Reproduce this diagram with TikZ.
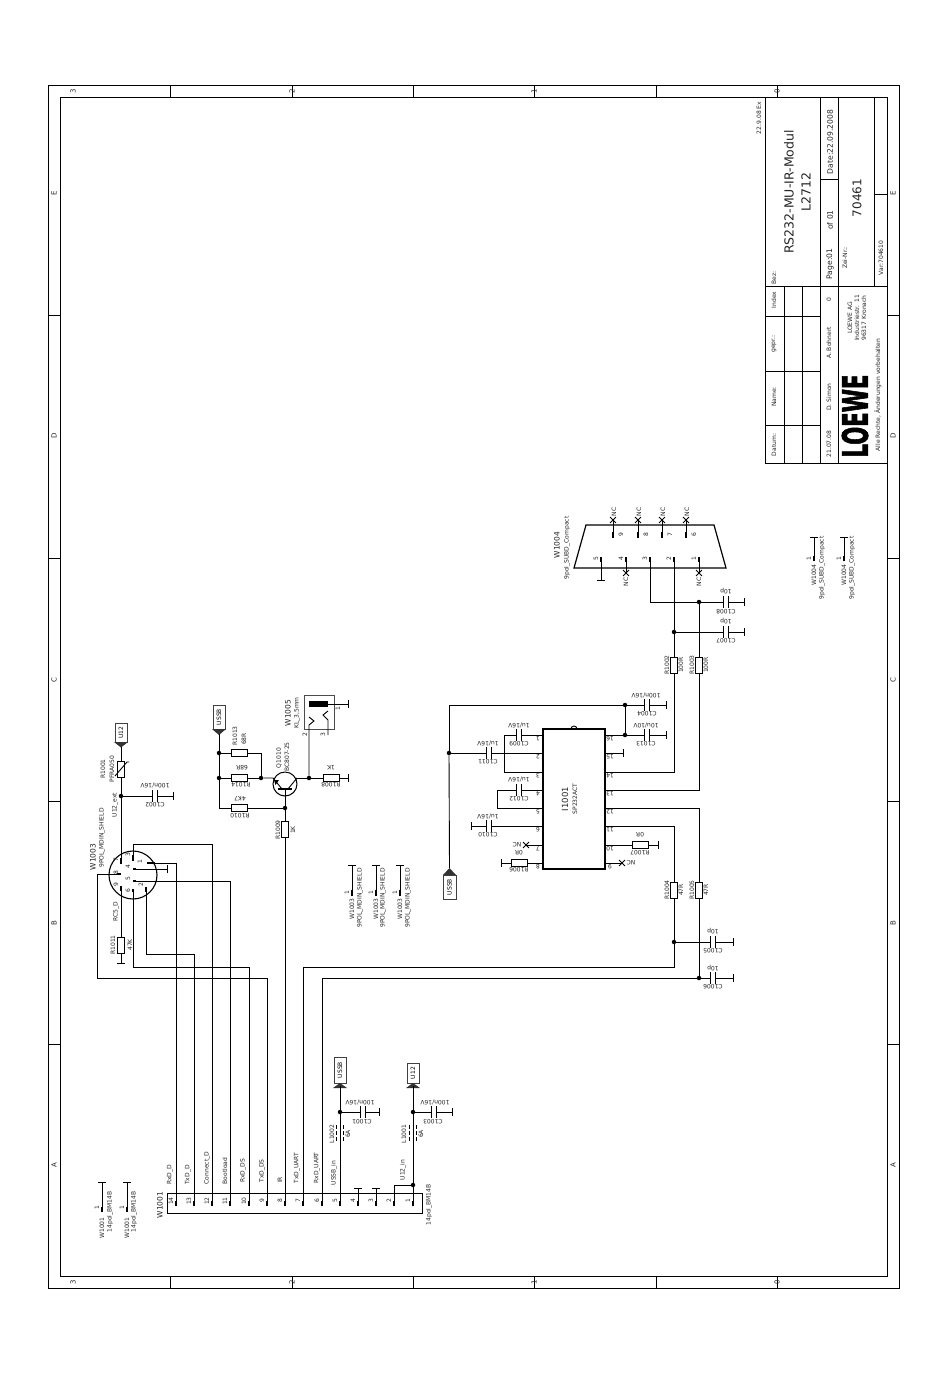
\documentclass[tikz,border=0pt]{standalone}
\usepackage{fontspec}
\setmainfont{DejaVu Sans}
\newfontfamily\logofont[FakeBold=2.5]{DejaVu Sans Bold}
\usetikzlibrary{shapes.misc}
\newcounter{lb}
\tikzset{
 wire/.style={line width=0.9pt,black},
 pinw/.style={line width=2pt,black},
 frm/.style={line width=0.9pt,black},
 txt/.style={inner sep=0pt,font=\fontsize{6}{7}\selectfont,text=black!85},
 dot/.style={circle,fill=black,inner sep=0pt,minimum size=4.5pt},
 resv/.style={rectangle,draw,line width=0.9pt,fill=white,inner sep=0pt,minimum width=7pt,minimum height=16pt},
 resh/.style={rectangle,draw,line width=0.9pt,fill=white,inner sep=0pt,minimum width=16pt,minimum height=7pt},
 caph/.style={rectangle,inner sep=0pt,minimum width=4pt,minimum height=11pt},
 xm/.style={cross out,draw,line width=0.9pt,inner sep=0pt,minimum size=5pt},
 tagbox/.style={rectangle,draw=black!75,line width=1pt,fill=white,inner sep=0pt,font=\fontsize{6}{7}\selectfont},
}
\newcommand{\Tr}[3]{\stepcounter{lb}\node[txt,rotate=90] (t\arabic{lb}) at (#1,#2) {#3};}
\newcommand{\Tf}[3]{\stepcounter{lb}\node[txt,rotate=180] (t\arabic{lb}) at (#1,#2) {#3};}
\newcommand{\Tb}[4]{\stepcounter{lb}\node[txt,rotate=90,font=\fontsize{#4}{#4}\selectfont] (t\arabic{lb}) at (#1,#2) {#3};}
\newcommand{\jnc}[3]{\node[dot] (#1) at (#2,#3) {};}
\newcommand{\rvv}[3]{\node[resv] (#1) at (#2,#3) {};}
\newcommand{\rhh}[3]{\node[resh] (#1) at (#2,#3) {};}
\newcommand{\cpp}[3]{\node[caph] (#1) at (#2,#3) {};\draw[line width=1.1pt] (#1.north west) -- (#1.south west) (#1.north east) -- (#1.south east);}
\newcommand{\ptc}[3]{\coordinate (#1) at (#2,#3);}
\newcommand{\tkv}[3]{\coordinate (#1) at (#2,#3);\draw[wire] ([yshift=4pt]#1) -- ([yshift=-4pt]#1);}
\newcommand{\tkh}[3]{\coordinate (#1) at (#2,#3);\draw[wire] ([xshift=-4pt]#1) -- ([xshift=4pt]#1);}
\newcommand{\xxm}[3]{\node[xm] (#1) at (#2,#3) {};}
\begin{document}
\begin{tikzpicture}[x=1pt,y=-1pt]
\useasboundingbox (0,0) rectangle (950,1387);
\fill[white] (0,0) rectangle (950,1387);
% ---------- sheet frame
\draw[frm] (48,85) rectangle (899,1288);
\draw[frm] (60,97) rectangle (887,1276);
\foreach \x in {170,292,413,534,656,777}{\draw[frm] (\x,85)--(\x,97); \draw[frm] (\x,1276)--(\x,1288);}
\foreach \y in {315,558,801,1044}{\draw[frm] (48,\y)--(60,\y); \draw[frm] (887,\y)--(899,\y);}
\foreach \x/\l in {73/3,292/2,534/1,777/0}{\Tb{\x}{91}{\l}{7}\Tb{\x}{1282}{\l}{7}}
\foreach \y/\l in {193/E,436/D,680/C,923/B,1165/A}{\Tb{54}{\y}{\l}{7}\Tb{893}{\y}{\l}{7}}
% ---------- title block
\draw[frm] (765,97)--(765,463)--(887,463);
\draw[frm] (765,97)--(887,97);
\draw[frm] (765,286)--(887,286);
\draw[frm] (820,97)--(820,463);
\draw[frm] (838,97)--(838,463);
\draw[frm] (874,97)--(874,286);
\draw[frm] (784,286)--(784,463);
\draw[frm] (802,286)--(802,463);
\foreach \y in {316,371,425}{\draw[frm] (765,\y)--(820,\y);}
\draw[frm] (820,179)--(838,179);
\draw[frm] (874,194)--(887,194);
\Tr{759}{118}{22.9.08 Ex}
\Tr{774}{278}{Bez:}
\Tb{789}{192}{RS232-MU-IR-Modul}{12.5}
\Tb{806}{192}{L2712}{12.5}
\Tb{830}{142}{Date:22.09.2008}{7.6}
\Tb{830}{264}{Page:01}{7.6}
\Tb{830}{220}{of 01}{7.6}
\Tr{845}{258}{Zei-Nr.:}
\Tb{857}{198}{70461}{12}
\Tr{881}{258}{Var:704610}
\Tr{774}{300}{Index}
\Tr{774}{344}{gepr.:}
\Tr{774}{397}{Name:}
\Tr{774}{445}{Datum:}
\Tr{829}{300}{0}
\Tr{829}{343}{A. Bohnert}
\Tr{829}{397}{D. Simon}
\Tr{829}{444}{21.07.08}
\Tr{850}{318}{LOEWE AG}
\Tr{857}{318}{Industriestr. 11}
\Tr{864}{318}{96317 Kronach}
\Tr{878}{395}{Alle Rechte, Änderungen vorbehalten}
\node[rotate=90,inner sep=0pt] (logo) at (855,416) {\resizebox{83pt}{26pt}{\logofont LOEWE}};
% ---------- W1004 D-sub
\draw[line width=1.2pt] (586,525)--(714,525)--(726,568)--(574,568)--cycle;
\Tb{557}{545}{W1004}{7.5}
\Tr{567}{548}{9pol\_SUBD\_Compact}
\foreach \n/\x in {5/601,4/626,3/650,2/674,1/699}{\ptc{D\n}{\x}{557}\draw[pinw] (D\n)--++(0,5);\draw[wire] (\x,562)--(\x,568);\Tr{\x-5}{559}{\n}}
\foreach \n/\x in {9/613,8/638,7/662,6/686}{\ptc{D\n}{\x}{538}\draw[pinw] (D\n)--++(0,-6);\Tr{\x+8}{535}{\n}}
\xxm{XD9}{613}{520}\xxm{XD8}{638}{520}\xxm{XD7}{662}{520}\xxm{XD6}{686}{520}
\foreach \n in {9,8,7,6}{\draw[wire] (D\n) -- (XD\n.center);}
\foreach \x in {613,638,662,686}{\Tr{\x+1}{512}{NC}}
\xxm{XD4}{626}{573}\xxm{XD1}{699}{573}
\draw[wire] (D4)--(XD4.center); \draw[wire] (D1)--(XD1.center);
\Tr{626}{582}{NC}\Tr{699}{582}{NC}
\tkh{GD5}{601}{580}\draw[wire] (D5)--(GD5);
% C1008/C1007
\jnc{J602}{699}{602}\jnc{J632}{674}{632}
\cpp{C1008}{726}{602}\cpp{C1007}{726}{632}
\tkv{E1008}{744}{602}\tkv{E1007}{744}{632}
\draw[wire] (D3) |- (C1008); \draw[wire] (C1008)--(E1008);
\draw[wire] (J632)--(C1007); \draw[wire] (C1007)--(E1007);
\Tf{726}{591}{10p}\Tf{726}{612}{C1008}\Tf{726}{621}{10p}\Tf{726}{641}{C1007}
\rvv{R1002}{674}{665}\rvv{R1003}{699}{665}
\draw[wire] (D2)--(J632)--(R1002); \draw[wire] (J602)--(R1003);
\Tr{667}{665}{R1002}\Tr{681}{665}{100R}\Tr{692}{665}{R1003}\Tr{706}{665}{100R}
% ---------- I1001
\node[rectangle,draw,line width=1.2pt,minimum width=62pt,minimum height=140pt,inner sep=0pt,fill=white] (I1001) at (574,799) {};
\draw[line width=0.9pt] (571,729) arc[start angle=180,end angle=360,radius=3];
\Tb{565}{799}{I1001}{8.5}
\Tr{575}{799}{SP232ACT}
\foreach \n/\y in {1/735,2/753,3/772,4/790,5/808,6/826,7/845,8/863}{\ptc{I\n}{543}{\y}\Tf{538}{\y+4}{\n}}
\foreach \n/\y in {16/735,15/753,14/772,13/790,12/808,11/826,10/845,9/863}{\ptc{I\n}{605}{\y}\Tf{610}{\y+4}{\n}}
\draw[wire] (R1002) |- (I14); \draw[wire] (R1003) |- (I13);
% 16 / supply
\jnc{J735}{625}{735}\jnc{J705}{625}{705}\jnc{J753}{449}{753}
\cpp{C1013}{647}{735}\cpp{C1004}{647}{705}
\tkv{E1013}{666}{735}\tkv{E1004}{666}{705}
\draw[wire] (I16)--(J735)--(C1013); \draw[wire] (C1013)--(E1013);
\draw[wire] (J735)--(J705)--(C1004); \draw[wire] (C1004)--(E1004);
\Tf{646}{695}{100n/16V}\Tf{647}{714}{C1004}\Tf{646}{725}{10u/10V}\Tf{646}{744}{C1013}
% USSB tag right
\node[tagbox,rotate=90,minimum width=24pt,minimum height=13pt] (USB3) at (449.5,887) {USSB};
\fill[black!80] (443,875)--(449.5,868)--(456,875)--cycle;
\ptc{USB3t}{449.5}{868}
\draw[wire] (J705) -| (J753);
\draw[wire] (J753)--(USB3t);
\cpp{C1011}{489}{753}\draw[wire] (J753)--(C1011);\draw[wire] (C1011)--(I2);
\Tf{488}{743}{1u/16V}\Tf{488}{762}{C1011}
\tkv{E15}{623}{753}\draw[wire] (I15)--(E15);
% C1009
\cpp{C1009}{519}{735}\ptc{K1}{504}{735}\ptc{K3}{504}{772}
\draw[wire] (I1)--(C1009); \draw[wire] (C1009)--(K1)--(K3)--(I3);
\Tf{519}{725}{1u/16V}\Tf{519}{744}{C1009}
% C1012
\cpp{C1012}{519}{790}\ptc{K4}{497}{790}\ptc{K5}{497}{808}
\draw[wire] (I4)--(C1012); \draw[wire] (C1012)--(K4)--(K5)--(I5);
\Tf{519}{779}{1u/16V}\Tf{519}{799}{C1012}
% C1010
\cpp{C1010}{489}{826}\tkv{E1010}{471}{826}
\draw[wire] (I6)--(C1010); \draw[wire] (C1010)--(E1010);
\Tf{488}{816}{1u/16V}\Tf{488}{835}{C1010}
% 7,8,9,10
\xxm{X7}{526}{845}\draw[wire] (I7)--(X7.center);\Tf{517}{845}{NC}
\rhh{R1006}{519}{863}\tkv{E1006}{501}{863}\draw[wire] (I8)--(R1006);\draw[wire] (R1006)--(E1006);
\Tf{519}{853}{0R}\Tf{519}{870}{R1006}
\rhh{R1007}{640}{845}\tkv{E1007b}{658}{845}\draw[wire] (I10)--(R1007);\draw[wire] (R1007)--(E1007b);
\Tf{640}{835}{0R}\Tf{640}{852.5}{R1007}
\xxm{X9}{622}{863}\draw[wire] (I9)--(X9.center);\Tf{631}{863}{NC}
% 11,12
\rvv{R1004}{674}{890}\rvv{R1005}{699}{890}
\draw[wire] (I11) -| (R1004); \draw[wire] (I12) -| (R1005);
\Tr{667}{890}{R1004}\Tr{681}{890}{47R}\Tr{692}{890}{R1005}\Tr{706}{890}{47R}
\jnc{J942}{674}{942}\jnc{J978}{699}{978}
\draw[wire] (R1004)--(J942); \draw[wire] (R1005)--(J978);
\cpp{C1005}{713}{942}\cpp{C1006}{713}{978}
\tkv{E1005}{733}{942}\tkv{E1006b}{733}{978}
\draw[wire] (J942)--(C1005); \draw[wire] (C1005)--(E1005);
\draw[wire] (J978)--(C1006); \draw[wire] (C1006)--(E1006b);
\Tf{713}{931}{10p}\Tf{713}{951}{C1005}\Tf{713}{968}{10p}\Tf{713}{987}{C1006}
% ---------- W1001 connector
\node[rectangle,draw,line width=0.9pt,minimum width=255pt,minimum height=20pt,inner sep=0pt] (W1001) at (294.5,1203) {};
\Tb{160}{1205}{W1001}{7.5}
\Tr{429}{1205}{14pol\_BM14B}
\foreach \n/\x in {14/176,13/194,12/212,11/230,10/249,9/267,8/285,7/303,6/322,5/340,4/358,3/376,2/394,1/413}{\ptc{W\n}{\x}{1206}\draw[pinw] (W\n)--++(0,-5);\Tr{\x-5}{1201}{\n}}
\Tr{170}{1175}{RxD\_D}\Tr{188}{1175}{TxD\_D}\Tr{207}{1168}{Connect\_D}\Tr{225}{1171}{Bootload}
\Tr{243}{1171}{RxD\_DS}\Tr{262}{1171}{TxD\_DS}\Tr{280}{1180}{IR}\Tr{297}{1168}{TxD\_UART}
\Tr{317}{1168}{RxD\_UART}\Tr{334}{1173}{USSB\_in}\Tr{403}{1170}{U12\_in}
\tkh{G4}{358}{1188}\tkh{G3}{376}{1188}
\draw[wire] (W4)--(G4); \draw[wire] (W3)--(G3);
% lower tags
\node[tagbox,rotate=90,minimum width=26pt,minimum height=12pt] (USB2) at (340,1070) {USSB};
\fill[black!80] (333,1088)--(347,1088)--(340,1083)--cycle;
\ptc{USB2t}{340}{1086}
\node[tagbox,rotate=90,minimum width=20pt,minimum height=12pt] (U12b) at (413,1073) {U12};
\fill[black!80] (406,1088)--(420,1088)--(413,1083)--cycle;
\ptc{U12bt}{413}{1086}
\jnc{J1112a}{340}{1112}\jnc{J1112b}{413}{1112}\jnc{J1185}{413}{1185}
\draw[wire] (W5)--(J1112a)--(USB2t);
\draw[wire] (W1)--(J1185)--(J1112b)--(U12bt);
\draw[wire] (W2) |- (J1185);
\cpp{C1001}{363}{1112}\cpp{C1003}{434}{1112}
\tkv{E1001}{379}{1112}\tkv{E1003}{452}{1112}
\draw[wire] (J1112a)--(C1001); \draw[wire] (C1001)--(E1001);
\draw[wire] (J1112b)--(C1003); \draw[wire] (C1003)--(E1003);
\Tf{360}{1102}{100n/16V}\Tf{362}{1122}{C1001}\Tf{435}{1102}{100n/16V}\Tf{433}{1122}{C1003}
\foreach \x in {336,343,409,416}{\draw[line width=0.9pt,dash pattern=on 4pt off 2pt] (\x,1125)--(\x,1142);}
\Tr{332}{1134}{L1002}\Tr{348}{1134}{6A}\Tr{404}{1134}{L1001}\Tr{421}{1134}{6A}
% ---------- W1003 round connector
\node[circle,draw,line width=1.1pt,minimum size=48pt,inner sep=0pt] (W1003) at (133,875) {};
\Tb{93}{857}{W1003}{7.5}
\Tr{102}{838}{9POL\_MDIN\_SHIELD}
\ptc{P1}{147}{863}\ptc{P2}{146}{887}\ptc{P3}{133}{855}\ptc{P4}{133}{869}\ptc{P5}{133}{881}\ptc{P6}{133}{892}\ptc{P7}{121}{864}\ptc{P8}{121}{874}\ptc{P9}{121}{886}
\draw[pinw] (P1)--++(8,0);\draw[pinw] (P4)--++(3,0);\draw[pinw] (P5)--++(3,0);\draw[pinw] (P2)--++(0,5);
\draw[pinw] (P3)--++(0,6);\draw[pinw] (P6)--++(0,-3);\draw[pinw] (P7)--++(0,-6);\draw[pinw] (P8)--++(-4,0);\draw[pinw] (P9)--++(0,5);
\Tr{140}{862}{1}\Tr{141}{885}{2}\Tr{128}{855}{3}\Tr{128}{867}{4}\Tr{128}{879}{5}\Tr{128}{891}{6}\Tr{116}{860}{7}\Tr{116}{873}{8}\Tr{116}{885}{9}
\ptc{A1}{176}{863}\draw[wire] (P1)--(A1)--(W14);
\ptc{A2a}{146}{954}\ptc{A2b}{194}{954}\draw[wire] (P2)--(A2a)--(A2b)--(W13);
\ptc{A3a}{133}{844}\ptc{A3b}{212}{844}\draw[wire] (P3)--(A3a)--(A3b)--(W12);
\tkv{E4}{167}{869}\draw[wire] (P4)--(E4);
\ptc{A5}{230}{881}\draw[wire] (P5)--(A5)--(W11);
\ptc{A6a}{133}{967}\ptc{A6b}{249}{967}\draw[wire] (P6)--(A6a)--(A6b)--(W10);
\ptc{A8a}{97}{874}\ptc{A8b}{97}{978}\ptc{A8c}{267}{978}\draw[wire] (P8)--(A8a)--(A8b)--(A8c)--(W9);
\rvv{R1011}{121}{945}\tkh{E1011}{121}{963}\draw[wire] (P9)--(R1011);\draw[wire] (R1011)--(E1011);
\Tr{113}{945}{R1011}\Tr{130}{945}{47K}\Tr{116}{912}{RC5\_D}
% U12 tag top
\node[tagbox,rotate=90,minimum width=19pt,minimum height=12pt] (U12a) at (121,732.5) {U12};
\fill[black!80] (114,742)--(128,742)--(121,747.5)--cycle;
\ptc{U12at}{121}{747}
\node[resv] (R1001) at (121,769) {};
\draw[wire] (115,776)--(127,762)--(129,762);
\jnc{J796}{121}{796}
\draw[wire] (U12at)--(R1001); \draw[wire] (R1001)--(J796)--(P7);
\cpp{C1002}{155}{796}\tkv{E1002}{173}{796}
\draw[wire] (J796)--(C1002); \draw[wire] (C1002)--(E1002);
\Tr{103}{769}{R1001}\Tr{112}{769}{PFRA050}\Tr{115}{805}{U12\_ext}
\Tf{155}{785}{100n/16V}\Tf{155}{805}{C1002}
% ---------- transistor stage
\node[tagbox,rotate=90,minimum width=24pt,minimum height=12pt] (USB1) at (219,717) {USSB};
\fill[black!80] (212,729)--(226,729)--(219,735)--cycle;
\ptc{USB1t}{219}{734}
\jnc{J753b}{219}{753}\jnc{J778}{219}{778}\ptc{K808}{219}{808}
\draw[wire] (USB1t)--(J753b)--(J778)--(K808);
\rhh{R1013}{239}{753}\rhh{R1014}{239}{778}\rhh{R1010}{239}{808}
\jnc{J778b}{261}{778}\jnc{J808}{285}{808}
\draw[wire] (J753b)--(R1013); \draw[wire] (R1013) -| (J778b);
\draw[wire] (J778)--(R1014); \draw[wire] (R1014)--(J778b);
\draw[wire] (K808)--(R1010); \draw[wire] (R1010)--(J808);
\Tr{235}{736}{R1013}\Tr{244}{739}{68R}\Tf{242}{768}{68R}\Tf{241}{785}{R1014}\Tf{240}{799}{4K7}\Tf{240}{816}{R1010}
\node[circle,draw,line width=1pt,minimum size=24pt,inner sep=0pt] (Q1010) at (285,784) {};
\ptc{QE}{273}{778}\ptc{QC}{297}{778}
\draw[line width=1.4pt] (278,789)--(292,789);
\draw[wire] (J778b)--(QE)--(282,789);
\fill[black] (274,780)--(279,780)--(275.5,785)--cycle;
\draw[wire] (QC)--(288,789);
\draw[wire] (285,789)--(J808);
\Tr{279}{758}{Q1010}\Tr{287}{757}{BC807-25}
\rvv{R1009}{285}{829}\draw[wire] (J808)--(R1009); \draw[wire] (R1009)--(W8);
\Tr{278}{830}{R1009}\Tr{293}{830}{1K}
\jnc{J309}{309}{778}\rhh{R1008}{331}{778}\tkv{E1008b}{348}{778}
\draw[wire] (QC)--(J309)--(R1008); \draw[wire] (R1008)--(E1008b);
\Tf{331}{768}{1K}\Tf{331}{785}{R1008}
% W1005 jack
\node[rectangle,draw=black!70,line width=1pt,minimum width=30pt,minimum height=34pt,inner sep=0pt] (W1005) at (319,712) {};
\fill[black] (309,701) rectangle (328,707);
\ptc{JB}{328}{704}\tkv{E1005b}{348}{704}\draw[wire] (JB)--(E1005b);
\ptc{J2}{309}{725}\draw[wire] (J309)--(J2)--(314,721)--(309,717);
\ptc{J3}{328}{735}\draw[wire] (J3)--(328,720)--(323,715)--(328,711);
\Tr{338}{709}{1}\Tr{305}{735}{2}\Tr{323}{735}{3}
\Tb{288}{713}{W1005}{7.5}\Tr{297}{713}{KL\_3,5mm}
% wires to W1001 pins 7,6
\ptc{A7}{303}{967}\ptc{A7b}{674}{967}\ptc{A6c}{322}{978}
\draw[wire] (J942)--(A7b)--(A7)--(W7);
\draw[wire] (J978)--(A6c)--(W6);
% ---------- sheet stubs
\foreach \x/\a/\b/\k in {352/352/360/a,376/376/383/b,400/400/408/c}{
 \tkh{S\k}{\x}{865}\ptc{St\k}{\x}{896}\draw[wire] (S\k)--(St\k);\draw[pinw] (St\k)--++(0,-6);
 \Tr{\x-5}{893}{1}\Tr{\a}{909}{W1003}\Tr{\b}{898}{9POL\_MDIN\_SHIELD}}
\foreach \x/\b/\k in {814/822/d,844/852/e}{
 \tkh{S\k}{\x}{537}\ptc{St\k}{\x}{561}\draw[wire] (S\k)--(St\k);\draw[pinw] (St\k)--++(0,-5);
 \Tr{\x-5}{559}{1}\Tr{\x}{575}{W1004}\Tr{\b}{568}{9pol\_SUBD\_Compact}}
\foreach \x/\b/\k in {102/110/f,127/134/g}{
 \tkh{S\k}{\x}{1182}\ptc{St\k}{\x}{1212}\draw[wire] (S\k)--(St\k);\draw[pinw] (St\k)--++(0,-5);
 \Tr{\x-5}{1208}{1}\Tr{\x}{1228}{W1001}\Tr{\b}{1212}{14pol\_BM14B}}
\end{tikzpicture}
\end{document}
